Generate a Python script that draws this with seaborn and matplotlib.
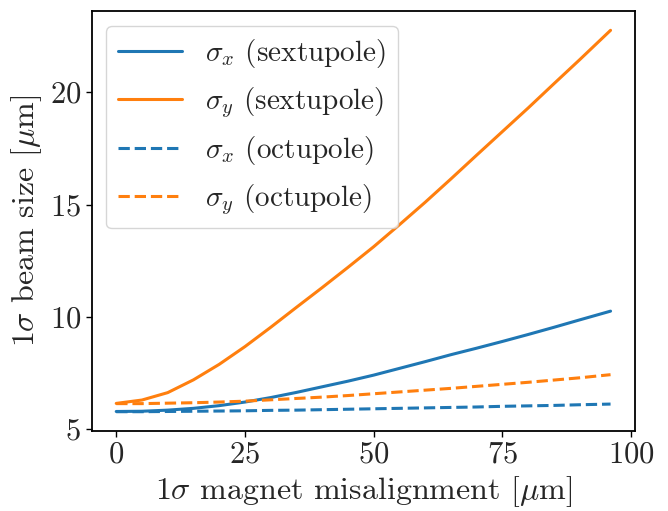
import numpy as np
import pandas as pd
import matplotlib
matplotlib.use("Agg")
import matplotlib.pyplot as plt
import seaborn as sns

# Data
misalignment = [0, 5, 10, 15, 20, 25, 30, 35, 40, 45, 50, 55, 60, 65, 70, 75, 80, 85, 90, 96]
sx_sext = [5.78, 5.79, 5.84, 5.92, 6.04, 6.20, 6.40, 6.63, 6.88, 7.13, 7.40, 7.70, 8.00, 8.31, 8.60, 8.90, 9.21, 9.53, 9.86, 10.25]
sy_sext = [6.14, 6.29, 6.62, 7.19, 7.88, 8.67, 9.53, 10.42, 11.30, 12.20, 13.12, 14.10, 15.10, 16.14, 17.20, 18.25, 19.30, 20.38, 21.45, 22.76]
sx_oct = [5.77, 5.77, 5.78, 5.79, 5.80, 5.81, 5.83, 5.84, 5.86, 5.88, 5.90, 5.92, 5.94, 5.96, 5.98, 6.01, 6.03, 6.05, 6.08, 6.11]
sy_oct = [6.13, 6.13, 6.15, 6.17, 6.20, 6.24, 6.30, 6.36, 6.42, 6.49, 6.57, 6.65, 6.73, 6.81, 6.90, 6.99, 7.08, 7.18, 7.28, 7.42]

labels = [r"$\sigma_x$ (sextupole)", r"$\sigma_y$ (sextupole)",
          r"$\sigma_x$ (octupole)", r"$\sigma_y$ (octupole)"]
series = [sx_sext, sy_sext, sx_oct, sy_oct]
colors = ["#1f77b4", "#ff7f0e", "#1f77b4", "#ff7f0e"]
styles = ["-", "-", "--", "--"]

sns.set_style("ticks")
plt.rcParams["font.family"] = ["cmr10", "DejaVu Serif"]
plt.rcParams["mathtext.fontset"] = "cm"
plt.rcParams["axes.unicode_minus"] = False
plt.rcParams["axes.formatter.use_mathtext"] = True

fig = plt.figure(figsize=(6.68, 5.11), dpi=100)
ax = fig.add_axes([0.137, 0.157, 0.814, 0.821])

for lab, vals, c, ls in zip(labels, series, colors, styles):
    df = pd.DataFrame({"x": misalignment, "y": vals})
    sns.lineplot(data=df, x="x", y="y", ax=ax, color=c, linestyle=ls,
                 linewidth=2.2, label=lab)

ax.set_xticks([0, 25, 50, 75, 100])
ax.set_yticks([5, 10, 15, 20])
ax.tick_params(labelsize=22, length=4, width=1, color="black")
ax.set_xlabel(r"1$\sigma$ magnet misalignment [$\mu$m]", fontsize=23, labelpad=4)
ax.set_ylabel(r"1$\sigma$ beam size [$\mu$m]", fontsize=23, labelpad=4)
for s in ax.spines.values():
    s.set_color("black")
    s.set_linewidth(1.3)

leg = ax.legend(loc="upper left", fontsize=21, frameon=True, handlelength=2.2)
leg.get_frame().set_edgecolor("#cccccc")

fig.savefig("out.png", dpi=100)
